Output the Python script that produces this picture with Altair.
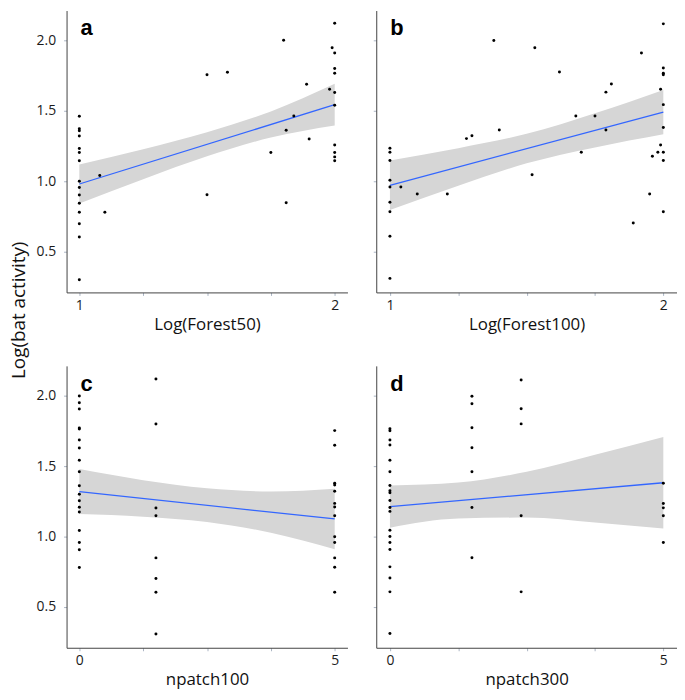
import pandas as pd
import altair as alt

# ---------------- data ----------------
a_x = [1]*15 + [1.08, 1.10, 1.50, 1.50, 1.58, 1.75, 1.80, 1.81, 1.81, 1.84, 1.89, 1.90, 1.98, 1.99] + [2]*10
a_y = [1.461, 1.372, 1.358, 1.321, 1.231, 1.203, 1.145, 0.998, 0.954, 0.900, 0.842, 0.777, 0.696, 0.601, 0.298,
       1.040, 0.777, 1.756, 0.903, 1.775, 1.203, 2.002, 1.361, 0.845, 1.463, 1.689, 1.300, 1.654, 1.949,
       2.123, 1.912, 1.802, 1.768, 1.630, 1.540, 1.256, 1.203, 1.172, 1.145]

b_x = [1]*9 + [1.04, 1.10, 1.21, 1.28, 1.30, 1.38, 1.40, 1.52, 1.53, 1.62, 1.68, 1.70, 1.75, 1.79, 1.79,
               1.81, 1.89, 1.92, 1.95, 1.96, 1.98, 1.99, 1.99] + [2]*9
b_y = [1.233, 1.205, 1.147, 1.005, 0.958, 0.849, 0.781, 0.607, 0.307,
       0.958, 0.907, 0.907, 1.302, 1.323, 2.000, 1.363, 1.044, 1.949, 1.777, 1.463, 1.205, 1.463, 1.363, 1.633,
       1.691, 0.702, 1.912, 0.907, 1.177, 1.205, 1.653, 1.256,
       2.119, 1.805, 1.767, 1.756, 1.544, 1.381, 1.205, 1.147, 0.781]

c_x = [0]*18 + [1.5]*8 + [5]*13
c_y = [2.000, 1.951, 1.907, 1.772, 1.765, 1.686, 1.630, 1.542, 1.460, 1.360, 1.300, 1.253, 1.207, 1.174,
       1.042, 0.956, 0.905, 0.779,
       2.121, 1.800, 1.202, 1.147, 0.847, 0.700, 0.602, 0.305,
       1.753, 1.649, 1.379, 1.365, 1.321, 1.235, 1.209, 1.147, 0.998, 0.956, 0.847, 0.781, 0.602]

d_x = [0]*20 + [1.5]*7 + [2.4]*5 + [5]*5
d_y = [1.766, 1.752, 1.687, 1.650, 1.542, 1.460, 1.362, 1.325, 1.311, 1.255, 1.206, 1.178, 1.044, 1.000,
       0.956, 0.907, 0.783, 0.703, 0.605, 0.308,
       1.998, 1.944, 1.773, 1.631, 1.460, 1.206, 0.848,
       2.114, 1.909, 1.801, 1.147, 0.605,
       1.379, 1.234, 1.203, 1.147, 0.956]

# fitted lines (end points) and 95% confidence bands
forest_band_x = [1, 1.25, 1.5, 1.75, 2]
patch_band_x = [0, 1.25, 2.5, 3.75, 5]
a_fit = [0.979, 1.544]
a_hi = [1.118, 1.227, 1.348, 1.496, 1.692]
a_lo = [0.840, 1.013, 1.176, 1.310, 1.396]
b_fit = [0.970, 1.491]
b_hi = [1.147, 1.234, 1.336, 1.483, 1.649]
b_lo = [0.793, 0.966, 1.126, 1.239, 1.333]
c_fit = [1.319, 1.124]
c_hi = [1.479, 1.400, 1.342, 1.320, 1.340]
c_lo = [1.159, 1.140, 1.102, 1.026, 0.908]
d_fit = [1.212, 1.382]
d_hi = [1.362, 1.383, 1.460, 1.581, 1.708]
d_lo = [1.062, 1.127, 1.134, 1.099, 1.056]

y_ticks = [0.5, 1.0, 1.5, 2.0]
forest_ticks = [1, 1.25, 1.5, 1.75, 2]
patch_ticks = [0, 1.25, 2.5, 3.75, 5]
letters = ["a", "b", "c", "d"]
x_titles = ["Log(Forest50)", "Log(Forest100)", "npatch100", "npatch300"]
y_title = "Log(bat activity)"

FONT = "Open Sans"
Y_DOM = [0.207, 2.214]


def panel(xs, ys, bx, lo, hi, fit, xdom, xticks, xlab_vals, xtitle, letter, width, height, left):
    pts = pd.DataFrame({"x": xs, "y": ys})
    band = pd.DataFrame({"x": bx, "lo": lo, "hi": hi})
    fline = pd.DataFrame({"x": [bx[0], bx[-1]], "y": fit})
    xscale = alt.Scale(domain=xdom, nice=False, zero=False)
    yscale = alt.Scale(domain=Y_DOM, nice=False, zero=False)
    cond = " || ".join(f"datum.value == {v}" for v in xlab_vals)
    xaxis = alt.Axis(values=xticks, format="~g", labelExpr=f"({cond}) ? datum.label : ''", title=xtitle,
                     titleFontSize=17, titleFont=FONT, titleFontWeight="normal", titleColor="#111",
                     titlePadding=4, labelPadding=3, labelFlush=False)
    if left:
        yaxis = alt.Axis(values=y_ticks, format=".1f", title=None, labelPadding=8)
    else:
        yaxis = alt.Axis(values=y_ticks, labels=False, title=None)

    X = alt.X("x:Q", scale=xscale, axis=xaxis)
    Y = alt.Y("y:Q", scale=yscale, axis=yaxis)

    area = alt.Chart(band).mark_area(color="#d6d6d6", opacity=1, interpolate="monotone").encode(
        x=X, y=alt.Y("lo:Q", scale=yscale, axis=yaxis), y2="hi:Q",
    )
    line = alt.Chart(fline).mark_line(color="#3366FF", strokeWidth=1.3).encode(x=X, y=Y)
    dots = alt.Chart(pts).mark_circle(size=9, color="black", opacity=1).encode(x=X, y=Y)
    lab = alt.Chart(pd.DataFrame({"t": [letter]})).mark_text(
        font="Liberation Sans", fontWeight="bold", fontSize=22, align="left", baseline="alphabetic",
        color="black"
    ).encode(text="t:N", x=alt.value(14), y=alt.value(25))
    layers = [area, line, dots, lab]
    if letter == "a":
        ytl = alt.Chart(pd.DataFrame({"t": [y_title]})).mark_text(
            font=FONT, fontSize=19, angle=270, align="center", baseline="middle", color="#111"
        ).encode(text="t:N", x=alt.value(-48), y=alt.value(302))
        layers.append(ytl)
    return alt.layer(*layers).properties(width=width, height=height)


H = 284
pa = panel(a_x, a_y, forest_band_x, a_lo, a_hi, a_fit, [0.95, 2.05], forest_ticks, [1, 2],
           x_titles[0], letters[0], 283, H, True)
pb = panel(b_x, b_y, forest_band_x, b_lo, b_hi, b_fit, [0.95, 2.05], forest_ticks, [1, 2],
           x_titles[1], letters[1], 303, H, False)
pc = panel(c_x, c_y, patch_band_x, c_lo, c_hi, c_fit, [-0.25, 5.25], patch_ticks, [0, 5],
           x_titles[2], letters[2], 283, H, True)
pd_ = panel(d_x, d_y, patch_band_x, d_lo, d_hi, d_fit, [-0.25, 5.25], patch_ticks, [0, 5],
            x_titles[3], letters[3], 303, H, False)

chart = alt.concat(pa, pb, pc, pd_, columns=2).properties(
    bounds="flush", spacing={"row": 74, "column": 29},
    padding={"left": 2, "top": 0, "right": 0, "bottom": 0}
).configure_view(stroke=None).configure_axis(
    grid=False, domainColor="#444444", domainWidth=1, tickColor="#aab4c4", tickSize=3, tickWidth=1,
    labelFont=FONT, labelFontSize=14, labelColor="#1a1a1a",
)

chart.save("out.html", embed_options={"renderer": "svg", "actions": False})
